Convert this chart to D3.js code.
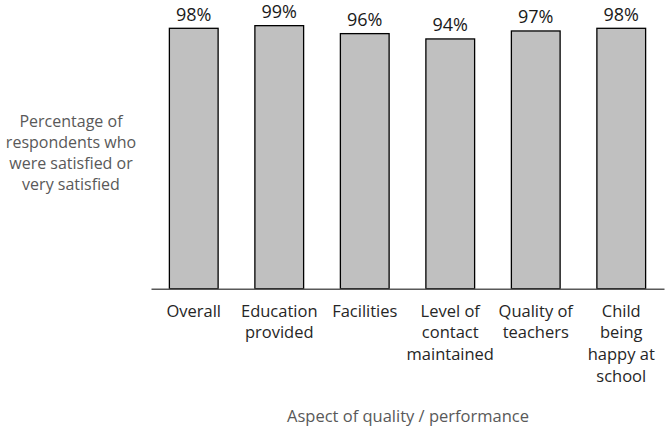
<!DOCTYPE html>
<html>
<head>
<meta charset="utf-8">
<script src="https://cdn.jsdelivr.net/npm/d3@7"></script>
<style>
  body { margin: 0; background: #fff; }
  text { font-family: "Open Sans", sans-serif; }
</style>
</head>
<body>
<div id="chart"></div>
<script>
// data
const categories = ["Overall", "Education provided", "Facilities", "Level of contact maintained", "Quality of teachers", "Child being happy at school"];
const categoryLines = [["Overall"], ["Education", "provided"], ["Facilities"], ["Level of", "contact", "maintained"], ["Quality of", "teachers"], ["Child", "being", "happy at", "school"]];
const values = [98, 99, 96, 94, 97, 98];
const yTitleLines = ["Percentage of", "respondents who", "were satisfied or", "very satisfied"];
const xTitle = "Aspect of quality / performance";

const W = 665, H = 428;

const svg = d3.select("#chart")
  .append("svg")
    .attr("width", W)
    .attr("height", H);

// scales
const x = d3.scaleBand()
  .domain(categories)
  .range([151, 664])
  .paddingInner(0.43)
  .paddingOuter(0.215);

const y = d3.scaleLinear()
  .domain([0, 100])
  .range([288.7, 23]);

// bars
svg.append("g")
  .selectAll("rect")
  .data(values)
  .enter()
  .append("rect")
    .attr("x", (d, i) => x(categories[i]))
    .attr("y", d => y(d))
    .attr("width", x.bandwidth())
    .attr("height", d => y(0) - y(d))
    .attr("fill", "#c0c0c0")
    .attr("stroke", "#000")
    .attr("stroke-width", 1.3);

// value labels
svg.append("g")
  .selectAll("text")
  .data(values)
  .enter()
  .append("text")
    .attr("x", (d, i) => x(categories[i]) + x.bandwidth() / 2)
    .attr("y", d => y(d) - 7.5)
    .attr("text-anchor", "middle")
    .attr("font-size", 18)
    .attr("fill", "#1a1a1a")
    .text(d => d + "%");

// x axis line (no ticks)
const xAxis = svg.append("g")
  .attr("transform", "translate(0," + y(0) + ")")
  .call(d3.axisBottom(x).tickSize(0).tickFormat(""));
xAxis.select(".domain")
  .attr("stroke", "#595959")
  .attr("stroke-width", 1.5);

// category labels, wrapped
const lab = svg.append("g")
  .selectAll("text")
  .data(categories)
  .enter()
  .append("text")
    .attr("text-anchor", "middle")
    .attr("font-size", 16.5)
    .attr("fill", "#262626")
    .attr("transform", d => "translate(" + (x(d) + x.bandwidth() / 2) + ",316.5)");
lab.selectAll("tspan")
  .data((d, i) => categoryLines[i])
  .enter()
  .append("tspan")
    .attr("x", 0)
    .attr("y", (d, j) => j * 21.7)
    .text(d => d);

// y title
svg.append("text")
  .attr("text-anchor", "middle")
  .attr("font-size", 16)
  .attr("fill", "#595959")
  .selectAll("tspan")
  .data(yTitleLines)
  .enter()
  .append("tspan")
    .attr("x", 71)
    .attr("y", (d, j) => 127 + j * 21)
    .text(d => d);

// x title
svg.append("text")
  .attr("x", 408)
  .attr("y", 422)
  .attr("text-anchor", "middle")
  .attr("font-size", 16.5)
  .attr("fill", "#595959")
  .text(xTitle);
</script>
</body>
</html>
